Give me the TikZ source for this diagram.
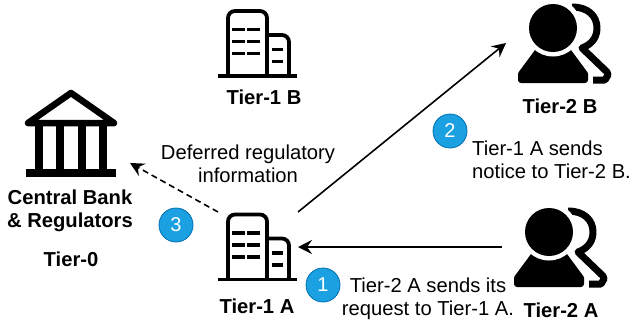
\documentclass[tikz,border=0pt]{standalone}
\usepackage{fontspec}
\usetikzlibrary{arrows.meta}
\setmainfont{Liberation Sans}
\definecolor{badgefill}{HTML}{1BA1E2}
\definecolor{badgeline}{HTML}{006EAF}
\tikzset{
  txt/.style={inner sep=0pt,font=\fontsize{20.2}{23}\selectfont,align=center},
  lbl/.style={txt,font=\fontsize{20.2}{23}\selectfont\bfseries},
  badge/.style={circle,draw=badgeline,fill=badgefill,line width=0.8pt,minimum size=34pt,inner sep=0pt,text=white,font=\fontsize{20}{23}\selectfont},
  icon/.style={inner sep=0pt,outer sep=0pt,minimum width=#1},
  tip/.style={-{Stealth[length=14pt,width=14pt,inset=5pt]},line width=1.6pt},
  building/.pic={
    \draw[line width=3.8pt,rounded corners=7pt] (-30,32.5) -- (-30,-32.5) -- (9,-32.5) -- (9,32.5);
    \draw[line width=3.8pt,rounded corners=7pt] (9,-8.5) -- (31,-8.5) -- (31,32.5);
    \draw[line width=3.8pt] (-40,32.5) -- (39,32.5);
    \foreach \wy in {-14,-2,10} {
      \draw[line width=3.8pt] (-26,\wy) -- (-13,\wy);
      \draw[line width=3.8pt] (-11,\wy) -- (2,\wy);
    }
    \draw[line width=3.8pt] (14,6) -- (25,6);
    \draw[line width=3.8pt] (14,18) -- (25,18);
  },
  person/.pic={
    \draw[line width=7pt,line join=round,line cap=butt] (12,-36) .. controls (28,-36) and (37,-27) .. (37,-15) .. controls (37,-4) and (30,2) .. (22,5) -- (47,29) -- (48,32) -- (45,37) -- (33,37);
    \fill[white] (-7,-15) circle (29);
    \draw[fill,line width=6pt,line join=round] (-22,8) -- (8,8) -- (25,31) -- (25,37) -- (-39,37) -- (-39,31) -- cycle;
    \fill[white] (-7,-15) circle (28.5);
    \fill (-7,-15) circle (24);
  },
  bank/.pic={
    \draw[line width=6.5pt,line join=round,line cap=round] (-43,-9) -- (0,-39) -- (43,-9) -- cycle;
    \foreach \cx in {-32,-11,10.5,32} {
      \fill (\cx-4,-9) rectangle (\cx+4,38);
    }
    \fill (-45,37) rectangle (45,45);
  }
}
\begin{document}
\begin{tikzpicture}[x=1pt,y=-1pt]

\useasboundingbox (0,0) rectangle (631,324);

\node[icon=118pt,minimum height=62pt] (cb) at (71,132) {};
\node[icon=80pt,minimum height=70pt] (t1a) at (258,247) {};
\node[icon=80pt,minimum height=70pt] (t1b) at (258,43.5) {};
\node[icon=108pt,minimum height=80pt] (t2a) at (556,247) {};
\node[icon=108pt,minimum height=80pt] (t2b) at (560,43) {};

\pic at (cb) {bank};
\pic at (t1a) {building};
\pic at (t1b) {building};
\pic at (t2a) {person};
\pic at (t2b) {person};

\node[lbl] (cblabel) at (70,211) {Central Bank\\\& Regulators};
\node[lbl] (t0label) at (71,259) {Tier-0};
\node[lbl] (t1alabel) at (257,306) {Tier-1 A};
\node[lbl] (t1blabel) at (264,97) {Tier-1 B};
\node[lbl] (t2alabel) at (561,310) {Tier-2 A};
\node[lbl] (t2blabel) at (560,106) {Tier-2 B};

\node[txt] (msg1) at (428,299) {Tier-2 A sends its\\request to Tier-1 A.};
\node[txt,align=left,anchor=west] (msg2) at (472,160) {Tier-1 A sends\\notice to Tier-2 B.};
\node[txt] (msg3) at (248,164) {Deferred regulatory\\information};

\node[badge] (b1) at (323,285) {1};
\node[badge] (b2) at (450,131) {2};
\node[badge] (b3) at (176,225) {3};

\draw[tip] (t2a.west) -- (t1a.east);
\draw[tip] (t1a.north east) -- (t2b.west);
\draw[tip,dashed,dash pattern=on 6pt off 4pt] (t1a.north west) -- (cb.south east);

\end{tikzpicture}
\end{document}
